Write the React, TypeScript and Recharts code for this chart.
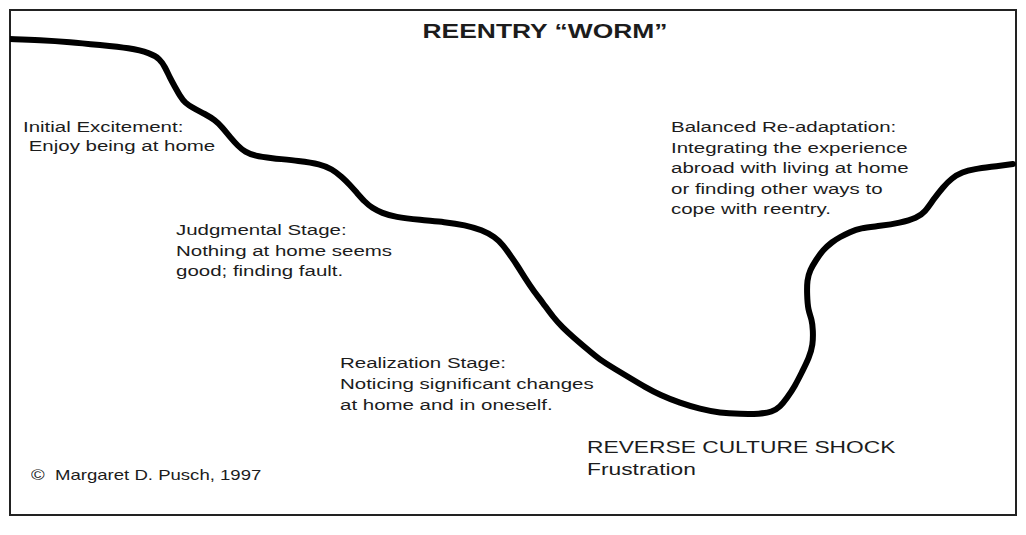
import React from "react";
import { LineChart, Line, XAxis, YAxis, ReferenceArea } from "recharts";

// Progress through time (horizontal) and emotional level (vertical) of the reentry "worm"
const timeSteps: number[] = [
  0, 30, 60, 90, 120, 140, 150, 155, 160, 165,
  170, 175, 183, 195, 205, 212, 220, 228, 235, 245,
  260, 290, 310, 322, 332, 340, 347, 355, 362, 372,
  385, 410, 435, 455, 472, 485, 493, 500, 507, 515,
  523, 533, 543, 553, 563, 577, 590, 605, 620, 635,
  650, 670, 690, 710, 730, 750, 762, 770, 777, 785,
  792, 799, 803, 803, 802, 798, 797, 797, 800, 806,
  813, 822, 830, 840, 850, 870, 890, 907, 915, 923,
  933, 942, 952, 965, 980, 1003,
];
const moodLevels: number[] = [
  476, 475, 473, 470, 467, 462, 456, 448, 437, 428,
  419, 412, 407, 401, 395, 388, 378, 369, 363, 359,
  357, 354, 351, 346, 338, 330, 322, 313, 307, 302,
  298, 295, 293, 290, 285, 278, 270, 260, 250, 237,
  225, 212, 198, 187, 178, 166, 155, 146, 137, 128,
  120, 112, 106, 102, 101, 101, 103, 108, 117, 129,
  143, 157, 170, 185, 195, 205, 220, 235, 245, 255,
  265, 273, 278, 283, 287, 289, 292, 297, 303, 315,
  328, 337, 343, 346, 348, 351,
];

const title = "REENTRY \u201cWORM\u201d";
const stageTexts: string[][] = [
  ["Initial Excitement:", " Enjoy being at home"],
  ["Judgmental Stage:", "Nothing at home seems", "good; finding fault."],
  ["Realization Stage:", "Noticing significant changes", "at home and in oneself."],
  ["Balanced Re-adaptation:", "Integrating the experience", "abroad with living at home", "or finding other ways to", "cope with reentry."],
  ["REVERSE CULTURE SHOCK", "Frustration"],
];
const credit = "\u00a9  Margaret D. Pusch, 1997";

const data = timeSteps.map((t, i) => ({ t, level: moodLevels[i] }));

const font = '"Liberation Sans", Arial, Helvetica, sans-serif';

type BlockProps = { lines: string[]; left: number; top: number; size: number; lh: number; scale?: number; weight?: number };
const Block = ({ lines, left, top, size, lh, scale = 1.32, weight = 400 }: BlockProps) => (
  <div
    style={{
      position: "absolute",
      left,
      top,
      fontFamily: font,
      fontSize: size,
      lineHeight: `${lh}px`,
      fontWeight: weight,
      color: "#1c1c1c",
      whiteSpace: "pre",
      transform: `scaleX(${scale})`,
      transformOrigin: "left top",
    }}
  >
    {lines.map((l, i) => (
      <div key={i}>{l}</div>
    ))}
  </div>
);

export default function App() {
  return (
    <div style={{ position: "absolute", left: 0, top: 0, width: 1026, height: 535, background: "#fff", overflow: "hidden" }}>
      <LineChart width={1026} height={535} data={data} margin={{ top: 10, right: 10, bottom: 20, left: 10 }}>
        <XAxis type="number" dataKey="t" domain={[0, 1006]} hide allowDataOverflow />
        <YAxis type="number" domain={[0, 505]} hide allowDataOverflow />
        <ReferenceArea x1={0} x2={1006} y1={0} y2={505} fill="none" stroke="#222" strokeWidth={2} ifOverflow="visible" />
        <Line
          type="basis"
          dataKey="level"
          stroke="#000"
          strokeWidth={6}
          dot={false}
          strokeLinecap="round"
          strokeLinejoin="round"
          isAnimationActive={false}
        />
      </LineChart>
      <div
        style={{
          position: "absolute",
          left: 345,
          top: 19,
          width: 400,
          textAlign: "center",
          fontFamily: font,
          fontSize: 20,
          lineHeight: "24px",
          fontWeight: 700,
          color: "#1c1c1c",
          transform: "scaleX(1.32)",
          transformOrigin: "center top",
        }}
      >
        {title}
      </div>
      <Block lines={stageTexts[0]} left={23} top={117} size={15.5} lh={19} />
      <Block lines={stageTexts[1]} left={176} top={220} size={15.5} lh={20.5} />
      <Block lines={stageTexts[2]} left={340} top={352} size={15.5} lh={21} />
      <Block lines={stageTexts[3]} left={671} top={117} size={15.5} lh={20.5} />
      <Block lines={stageTexts[4]} left={587} top={437} size={17} lh={21.5} scale={1.34} />
      <Block lines={[credit]} left={31} top={466} size={14.5} lh={18} scale={1.28} />
    </div>
  );
}
